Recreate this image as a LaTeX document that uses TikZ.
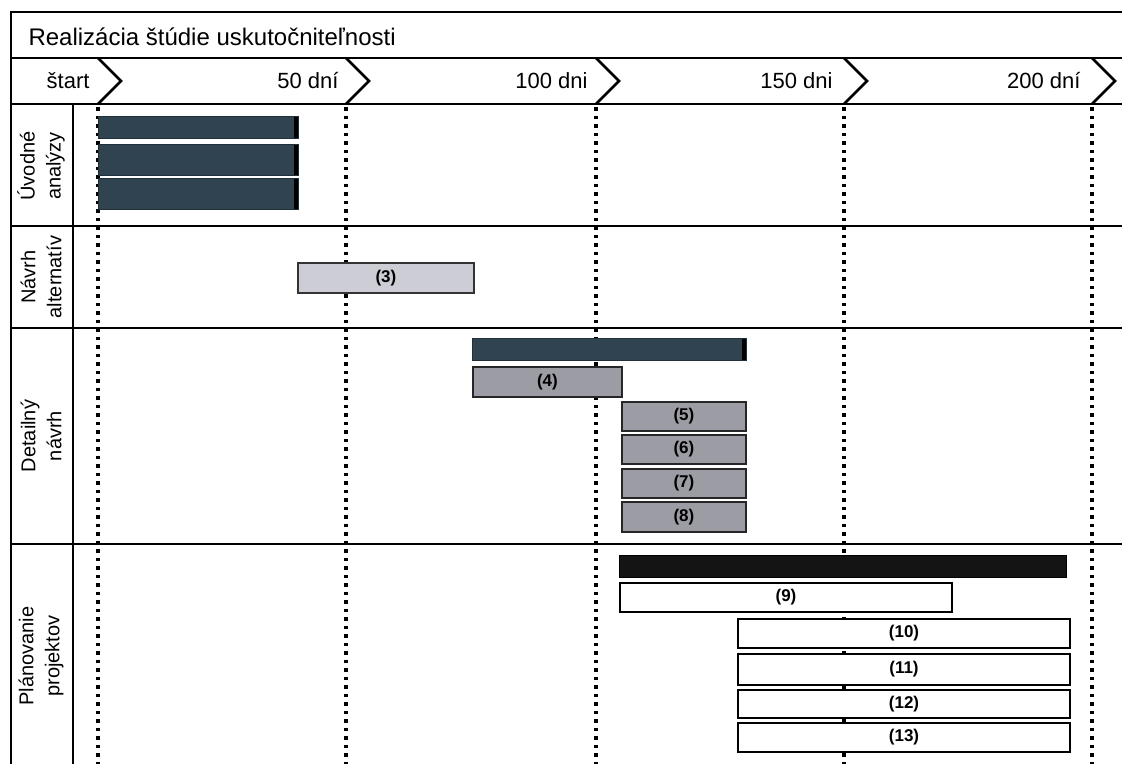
\documentclass[tikz,border=0pt]{standalone}
\usepackage{fontspec}
\setmainfont{Liberation Sans}
\definecolor{slate}{HTML}{2F4351}
\definecolor{lightbar}{HTML}{CDCED5}
\definecolor{midbar}{HTML}{9C9CA4}
\tikzset{
  frameline/.style={line width=2.2pt, black},
  chev/.style={line width=2.8pt, black, line join=miter},
  dayline/.style={line width=3.2pt, black, dash pattern=on 3.5pt off 5pt},
  taskbox/.style={rectangle, inner sep=0pt, anchor=north west, font=\fontsize{17}{18}\selectfont\bfseries},
  darkbar/.style={taskbox, fill=slate, draw=slate!70!black, line width=0.8pt,
    path picture={\fill[black] ([xshift=-4pt]path picture bounding box.north east) rectangle (path picture bounding box.south east);}},
  lightbox/.style={taskbox, fill=lightbar, draw=black!80, line width=1.8pt},
  midbox/.style={taskbox, fill=midbar, draw=black!85, line width=1.8pt},
  blackbar/.style={taskbox, fill=black!92, draw=black, line width=1pt},
  whitebox/.style={taskbox, fill=white, draw=black, line width=2pt},
  daylabel/.style={anchor=east, font=\fontsize{22}{24}\selectfont},
  rowlabel/.style={rotate=90, align=center, font=\fontsize{20}{26}\selectfont},
}
\newcommand{\taskbar}[7]{%
  \node[#6, minimum width={(#4-#2)*1pt}, minimum height={(#5-#3)*1pt}] (#1) at (#2,#3) {#7};}
\begin{document}
\begin{tikzpicture}[x=1pt,y=-1pt]
\useasboundingbox (0,0) rectangle (1122,764);
% frame
\draw[frameline] (1122,12) -- (11,12) -- (11,764);
\foreach \yy in {58,104,226,328,544} \draw[frameline] (11,\yy) -- (1122,\yy);
\draw[frameline] (73,104) -- (73,764);
% title
\node[anchor=west, font=\fontsize{24}{26}\selectfont] (title) at (25,37) {Realizácia štúdie uskutočniteľnosti};
% day grid lines
\foreach \dx in {98,346,596,844,1092} {
  \draw[dayline] (\dx,107) -- (\dx,764);
  \draw[chev, fill=white] (\dx,58) -- (\dx+23,81) -- (\dx,104);
}
% timeline labels
\node[daylabel] (d0) at (93,81) {štart};
\node[daylabel] (d50) at (342,81) {50 dní};
\node[daylabel] (d100) at (591,81) {100 dni};
\node[daylabel] (d150) at (836,81) {150 dni};
\node[daylabel] (d200) at (1084,81) {200 dní};
% row labels
\node[rowlabel] (r1) at (41,166) {Úvodné\\analýzy};
\node[rowlabel] (r2) at (41,277) {Návrh\\alternatív};
\node[rowlabel] (r3) at (41,436) {Detailný\\návrh};
\node[rowlabel] (r4) at (41,656) {Plánovanie\\projektov};
% Úvodné analýzy
\taskbar{t1a}{98}{116}{298}{138}{darkbar}{}
\taskbar{t1b}{98}{144}{298}{175}{darkbar}{}
\taskbar{t1c}{98}{178}{298}{209}{darkbar}{}
% Návrh alternatív
\taskbar{t3}{297}{262}{473}{292}{lightbox}{(3)}
% Detailný návrh
\taskbar{t4s}{472}{338}{746}{360}{darkbar}{}
\taskbar{t4}{472}{366}{621}{396}{midbox}{(4)}
\taskbar{t5}{621}{401}{745}{430}{midbox}{(5)}
\taskbar{t6}{621}{434}{745}{463}{midbox}{(6)}
\taskbar{t7}{621}{468}{745}{497}{midbox}{(7)}
\taskbar{t8}{621}{501}{745}{531}{midbox}{(8)}
% Plánovanie projektov
\taskbar{t9s}{619}{555}{1066}{577}{blackbar}{}
\taskbar{t9}{619}{582}{951}{611}{whitebox}{(9)}
\taskbar{t10}{737}{618}{1069}{647}{whitebox}{(10)}
\taskbar{t11}{737}{653}{1069}{684}{whitebox}{(11)}
\taskbar{t12}{737}{689}{1069}{717}{whitebox}{(12)}
\taskbar{t13}{737}{722}{1069}{751}{whitebox}{(13)}
\end{tikzpicture}
\end{document}
